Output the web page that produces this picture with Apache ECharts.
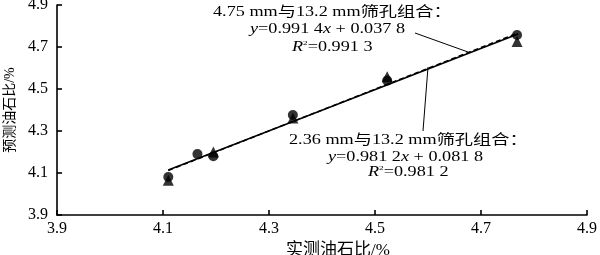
<!DOCTYPE html>
<html><head><meta charset="utf-8">
<script src="https://cdn.jsdelivr.net/npm/echarts@6/dist/echarts.min.js"></script>
<style>html,body{margin:0;padding:0;background:#fff}#c{width:600px;height:255px}</style>
</head><body><div id="c"></div>
<script>
var xTicks = [3.9, 4.1, 4.3, 4.5, 4.7, 4.9];
var yTicks = [3.9, 4.1, 4.3, 4.5, 4.7, 4.9];
var circleX = [4.11, 4.165, 4.195, 4.345, 4.523, 4.768];
var circleY = [4.081, 4.19, 4.18, 4.376, 4.54, 4.757];
var triX = [4.11, 4.195, 4.345, 4.523, 4.768];
var triY = [4.065, 4.2, 4.362, 4.558, 4.726];
var lineSolidX = [4.11, 4.77];
var lineSolidY = [4.114, 4.762];
var lineDashX = [4.11, 4.77];
var lineDashY = [4.112, 4.767];

function zip(a, b) { return a.map(function (v, i) { return [v, b[i]]; }); }

var serif = '"Liberation Serif", "Noto Sans CJK SC", serif';
var chart = echarts.init(document.getElementById('c'));
var rich = {
  i: { fontStyle: 'italic', fontFamily: serif, fontSize: 14, color: '#000' },
  n: { fontFamily: serif, fontSize: 14, color: '#000' },
  s: { fontFamily: serif, fontSize: 7, color: '#000', verticalAlign: 'top', padding: [0, 0, 7, 0] }
};
function txt(x, y, str) {
  return { type: 'text', x: x, y: y, scaleX: 1.3, scaleY: 1,
    style: { text: str, rich: rich, font: '14px ' + serif, fill: '#000', verticalAlign: 'middle', align: 'left' } };
}
chart.setOption({
  animation: false,
  grid: { left: 57, right: 13, top: 5, bottom: 40, containLabel: false, outerBoundsMode: 'none' },
  xAxis: {
    type: 'value', min: 3.9, max: 4.9, interval: 0.2,
    name: '实测油石比/%', nameLocation: 'middle', nameGap: 26,
    nameTextStyle: { fontFamily: serif, fontSize: 17, color: '#000', padding: [0, 0, 0, 32] },
    axisLine: { lineStyle: { color: '#000', width: 1.6 } },
    axisTick: { inside: true, length: 5, lineStyle: { color: '#000', width: 1.6 } },
    axisLabel: { margin: 6, fontFamily: serif, fontSize: 16, color: '#000',
      formatter: function (v) { return v.toFixed(1); } },
    splitLine: { show: false }
  },
  yAxis: {
    type: 'value', min: 3.9, max: 4.9, interval: 0.2,
    name: '预测油石比/%', nameLocation: 'middle', nameGap: 38,
    nameTextStyle: { fontFamily: serif, fontSize: 14, color: '#000' },
    axisLine: { show: true, lineStyle: { color: '#000', width: 1.6 } },
    axisTick: { show: true, inside: true, length: 5, lineStyle: { color: '#000', width: 1.6 } },
    axisLabel: { margin: 9, fontFamily: serif, fontSize: 16, color: '#000',
      formatter: function (v) { return v.toFixed(1); } },
    splitLine: { show: false }
  },
  series: [
    { type: 'line', data: zip(lineSolidX, lineSolidY), symbol: 'none', lineStyle: { color: '#000', width: 1.5 }, z: 3 },
    { type: 'line', data: zip(lineDashX, lineDashY), symbol: 'none', lineStyle: { color: '#000', width: 1.5, type: [5, 3] }, z: 3 },
    { type: 'scatter', data: zip(circleX, circleY), symbol: 'circle', symbolSize: 10, itemStyle: { color: '#000' }, z: 4 },
    { type: 'scatter', data: zip(triX, triY), symbol: 'triangle', symbolSize: 11, itemStyle: { color: '#000' }, z: 5 }
  ],
  graphic: [
    txt(213, 12, '{n|4.75 mm与13.2 mm筛孔组合：}'),
    txt(250, 29, '{i|y}{n|=0.991 4}{i|x}{n| + 0.037 8}'),
    txt(292, 47, '{i|R}{s|2}{n|=0.991 3}'),
    { type: 'line', shape: { x1: 415, y1: 33, x2: 468, y2: 52 }, style: { stroke: '#000', lineWidth: 1 } },
    txt(289, 140, '{n|2.36 mm与13.2 mm筛孔组合：}'),
    txt(328, 157, '{i|y}{n|=0.981 2}{i|x}{n| + 0.081 8}'),
    txt(368, 172, '{i|R}{s|2}{n|=0.981 2}'),
    { type: 'line', shape: { x1: 428, y1: 67, x2: 423, y2: 131 }, style: { stroke: '#000', lineWidth: 1 } }
  ]
});
</script></body></html>
